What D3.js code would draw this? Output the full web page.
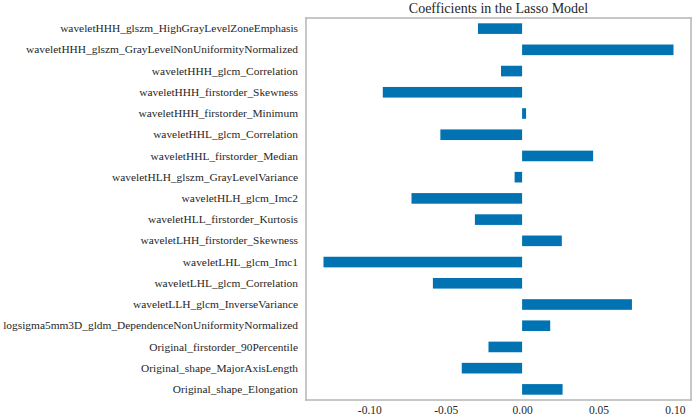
<!DOCTYPE html>
<html><head><meta charset="utf-8">
<script src="https://cdn.jsdelivr.net/npm/d3@7"></script>
<style>body{margin:0;background:#fff}svg{display:block}svg text{font-family:"Liberation Serif","Times New Roman",serif}</style>
</head><body>
<svg id="c" width="693" height="418"></svg>
<script>
const features = [
  "waveletHHH_glszm_HighGrayLevelZoneEmphasis",
  "waveletHHH_glszm_GrayLevelNonUniformityNormalized",
  "waveletHHH_glcm_Correlation",
  "waveletHHH_firstorder_Skewness",
  "waveletHHH_firstorder_Minimum",
  "waveletHHL_glcm_Correlation",
  "waveletHHL_firstorder_Median",
  "waveletHLH_glszm_GrayLevelVariance",
  "waveletHLH_glcm_Imc2",
  "waveletHLL_firstorder_Kurtosis",
  "waveletLHH_firstorder_Skewness",
  "waveletLHL_glcm_Imc1",
  "waveletLHL_glcm_Correlation",
  "waveletLLH_glcm_InverseVariance",
  "logsigma5mm3D_gldm_DependenceNonUniformityNormalized",
  "Original_firstorder_90Percentile",
  "Original_shape_MajorAxisLength",
  "Original_shape_Elongation"
];
const coefficients = [
  -0.0289, 0.0991, -0.0138, -0.0912, 0.0026, -0.0535, 0.0465, -0.0049, -0.0724,
  -0.0309, 0.0260, -0.1300, -0.0584, 0.0719, 0.0184, -0.0220, -0.0395, 0.0265
];
const xTicks = [-0.10, -0.05, 0.00, 0.05, 0.10];
const chartTitle = "Coefficients in the Lasso Model";

const mLeft = 306, mRight = 691, mTop = 18, mBottom = 400;
const svg = d3.select("#c");

const mn = d3.min(coefficients), mx = d3.max(coefficients);
const pad = (mx - mn) * 0.05;
const x = d3.scaleLinear().domain([mn - pad, mx + pad]).range([mLeft, mRight]);
const y = d3.scaleBand().domain(features).range([mTop, mBottom]).paddingInner(0.5).paddingOuter(0.25);

svg.append("g").selectAll("rect").data(features).join("rect")
  .attr("x", (d, i) => x(Math.min(0, coefficients[i])))
  .attr("width", (d, i) => Math.abs(x(coefficients[i]) - x(0)))
  .attr("y", d => y(d))
  .attr("height", y.bandwidth())
  .attr("fill", "#0173b2");

const xAxis = d3.axisBottom(x).tickValues(xTicks).tickSize(0).tickPadding(6);
const gx = svg.append("g").attr("transform", `translate(0,${mBottom})`).call(xAxis);
gx.select(".domain").remove();
gx.selectAll("text").attr("font-size", 11.5).attr("fill", "#262626")
  .text(d => d3.format(".2f")(d).replace("\u2212", "-"));

const yAxis = d3.axisLeft(y).tickSize(0).tickPadding(8);
const gy = svg.append("g").attr("transform", `translate(${mLeft},0)`).call(yAxis);
gy.select(".domain").remove();
gy.selectAll("text").attr("font-size", 11.4).attr("fill", "#262626");

svg.append("text").attr("x", (mLeft + mRight) / 2).attr("y", 12.5)
  .attr("text-anchor", "middle").attr("font-size", 14)
  .attr("fill", "#262626").text(chartTitle);

// axes frame, drawn last so nothing covers it
const frameColor = "#b4b4b4";
svg.append("g")
  .selectAll("line")
  .data([
    [mLeft, mTop, mRight, mTop],
    [mLeft, mBottom, mRight, mBottom],
    [mLeft, mTop, mLeft, mBottom],
    [mRight, mTop, mRight, mBottom]
  ])
  .join("line")
  .attr("x1", d => d[0]).attr("y1", d => d[1])
  .attr("x2", d => d[2]).attr("y2", d => d[3])
  .attr("stroke", frameColor).attr("stroke-width", 1.5)
  .attr("stroke-linecap", "square");
</script>
</body></html>
